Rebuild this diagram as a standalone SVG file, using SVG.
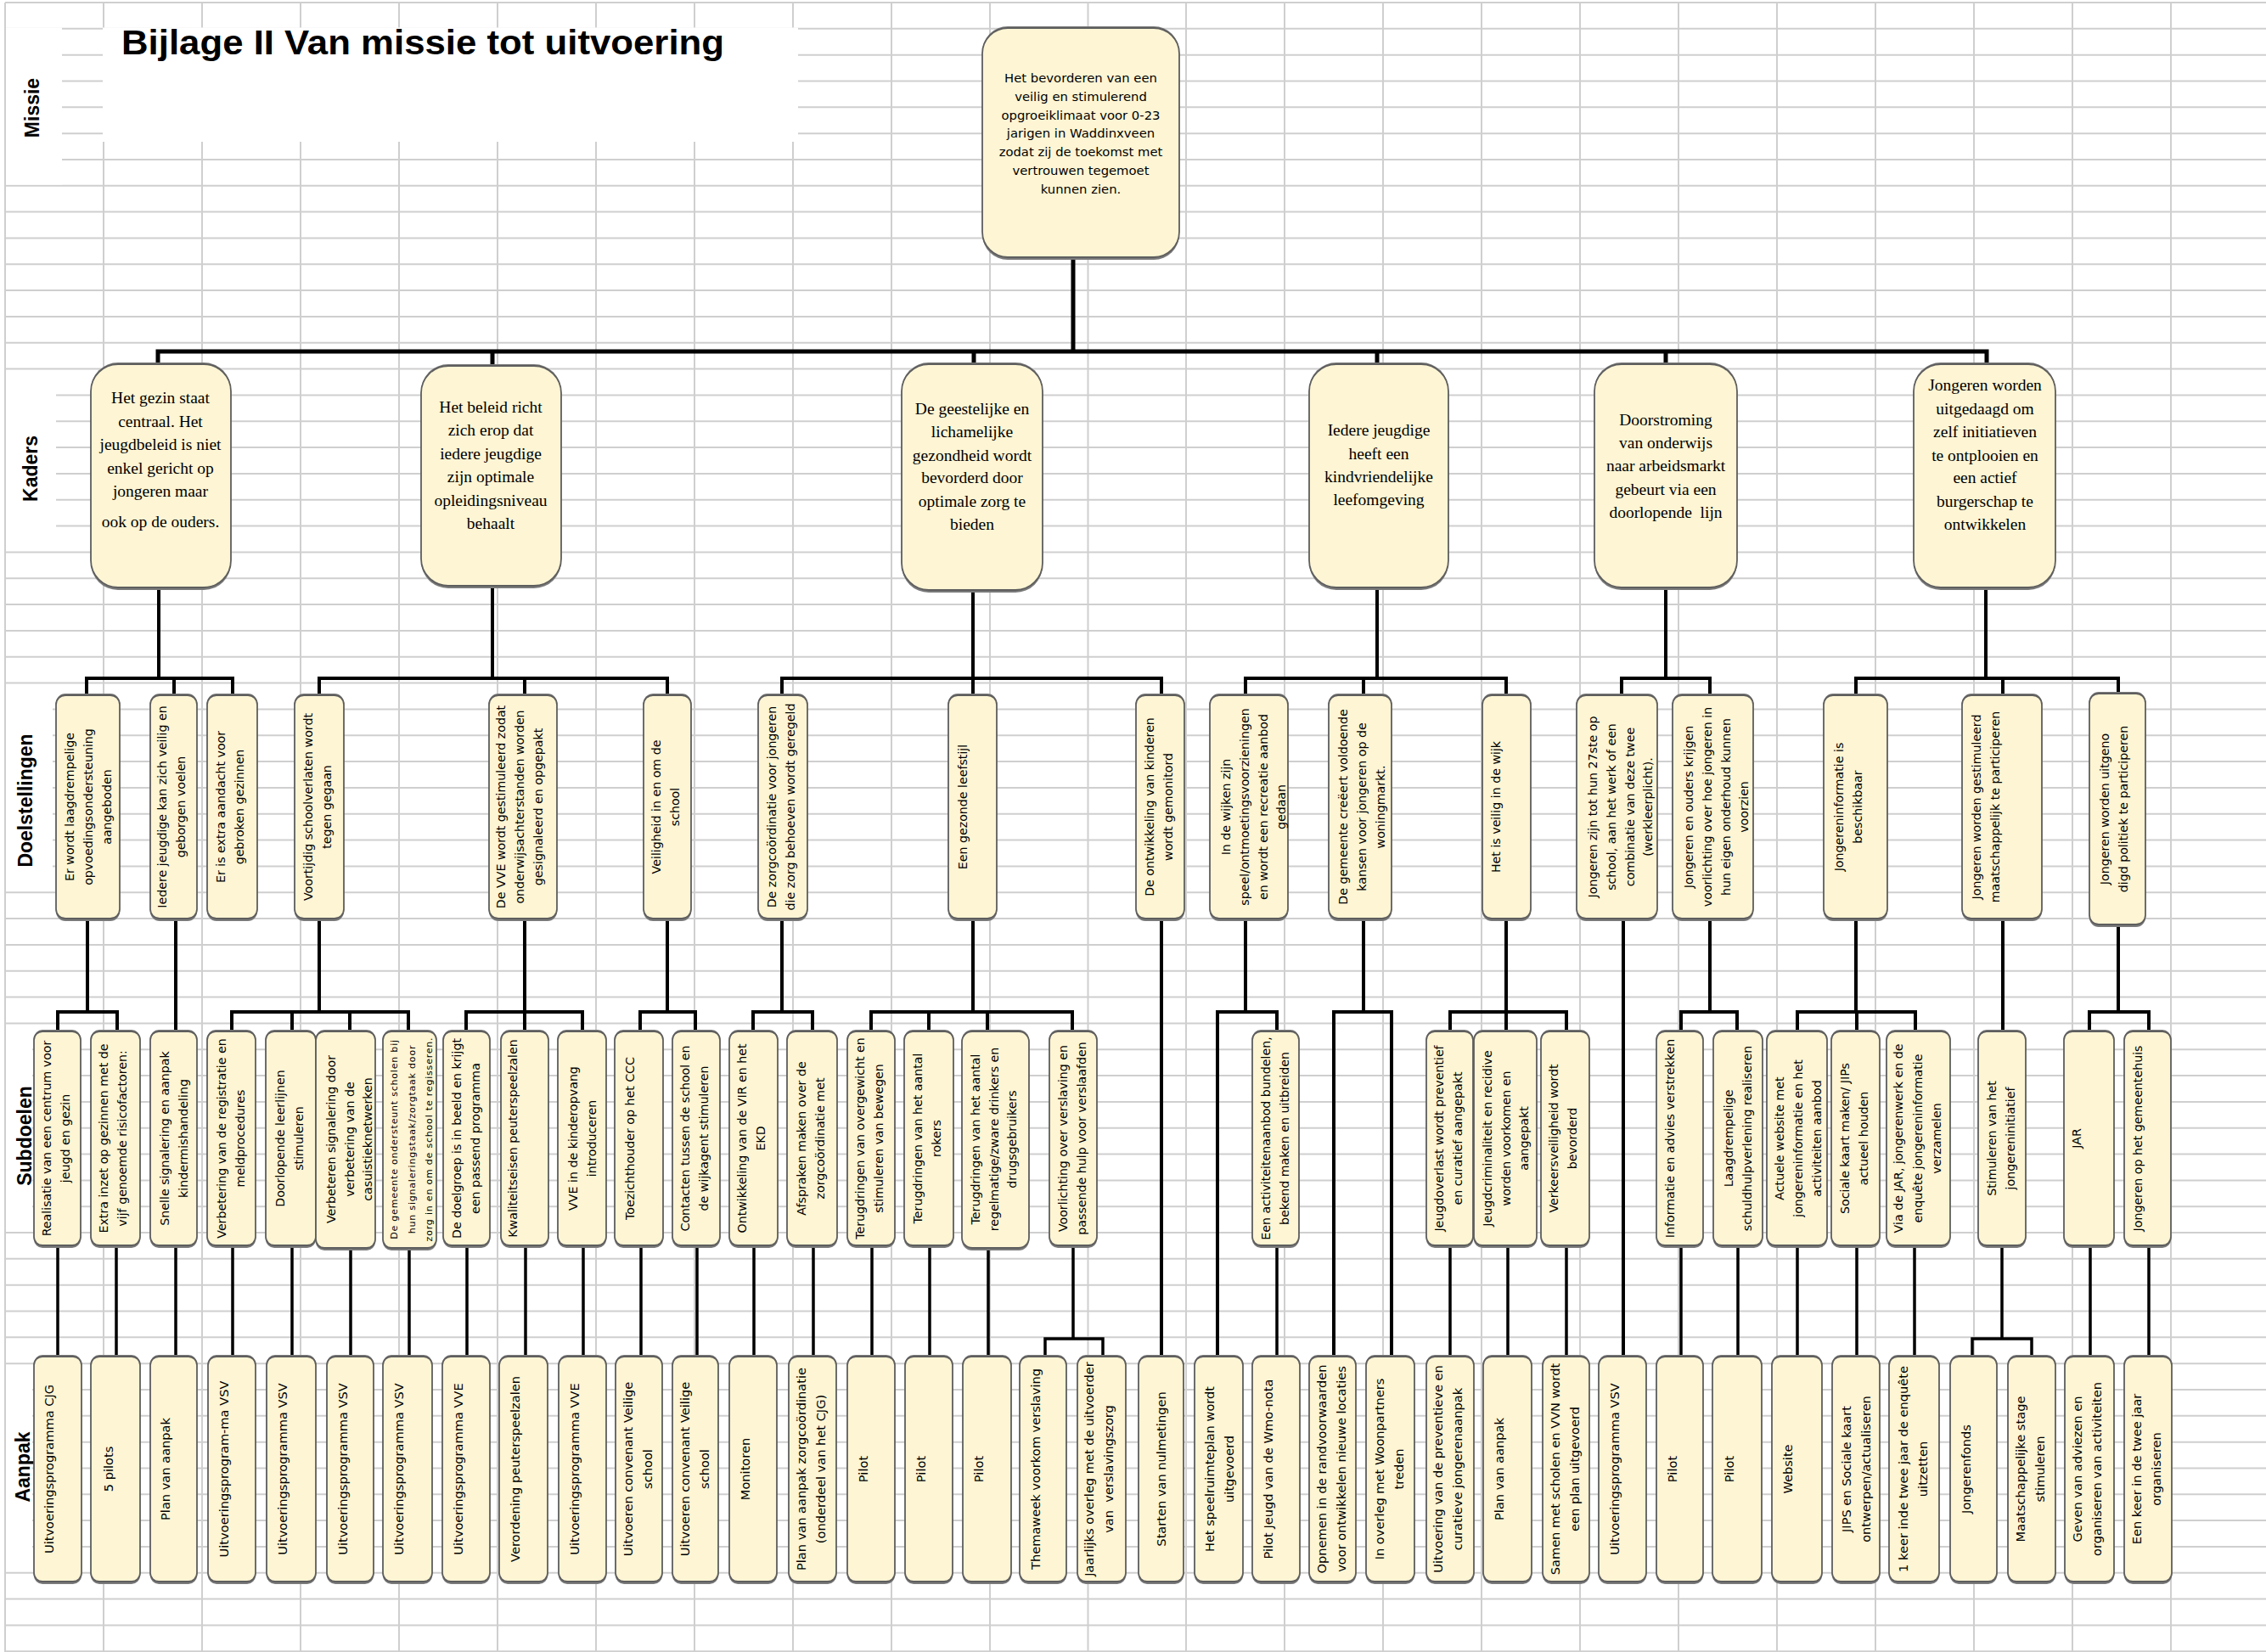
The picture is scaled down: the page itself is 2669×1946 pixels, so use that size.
<svg xmlns="http://www.w3.org/2000/svg" width="2669" height="1946" viewBox="0 0 2669 1946">
<style>
.grid{stroke:#cfcfcf;stroke-width:2;fill:none}
.wh{fill:#ffffff}
.box{fill:#fdf5d4;stroke:#5e5e5e;stroke-width:1.8}
.sh{fill:#7a7a7a}
.c{stroke:#000;stroke-width:4;fill:none;stroke-linecap:square}
.c5{stroke:#000;stroke-width:5;fill:none;stroke-linecap:square}
.c3{stroke:#000;stroke-width:3.5;fill:none;stroke-linecap:square}
.m{font-family:"DejaVu Sans",Verdana,sans-serif;font-size:14.8px;fill:#000;text-anchor:middle}
.t{font-family:"DejaVu Sans",Verdana,sans-serif;font-size:14.2px;fill:#000;text-anchor:middle}
.a{font-family:"DejaVu Sans",Verdana,sans-serif;font-size:14.6px;fill:#000;text-anchor:middle}
.s{font-family:"DejaVu Sans",Verdana,sans-serif;font-size:11px;letter-spacing:0.8px;fill:#000;text-anchor:middle}
.k{font-family:"Liberation Serif","Times New Roman",serif;font-size:19.5px;fill:#000;text-anchor:middle}
.lbl{font-family:"Liberation Sans",Arial,sans-serif;font-weight:bold;font-size:23px;fill:#000;text-anchor:middle}
.title{font-family:"Liberation Sans",Arial,sans-serif;font-weight:bold;font-size:40px;fill:#000}
</style>
<rect x="0" y="0" width="2669" height="1946" fill="#ffffff"/>
<g id="grid">
<path class="grid" d="M6 3V1946M122 3V1946M238 3V1946M354 3V1946M470 3V1946M586 3V1946M702 3V1946M818 3V1946M934 3V1946M1050 3V1946M1166 3V1946M1281.5 3V1946M1397 3V1946M1513 3V1946M1629 3V1946M1745 3V1946M1861 3V1946M1977 3V1946M2093 3V1946M2209 3V1946M2325 3V1946M2441 3V1946M2557 3V1946"/>
<path class="grid" d="M6 3H2669M6 33.8H2669M6 64.7H2669M6 95.5H2669M6 126.3H2669M6 157.2H2669M6 188H2669M6 218.8H2669M6 249.6H2669M6 280.5H2669M6 311.3H2669M6 342.1H2669M6 373H2669M6 403.8H2669M6 434.6H2669M6 465.5H2669M6 496.3H2669M6 527.1H2669M6 557.9H2669M6 588.8H2669M6 619.6H2669M6 650.4H2669M6 681.3H2669M6 712.1H2669M6 742.9H2669M6 773.8H2669M6 804.6H2669M6 835.4H2669M6 866.2H2669M6 897.1H2669M6 927.9H2669M6 958.7H2669M6 989.6H2669M6 1020.4H2669M6 1051.2H2669M6 1082.1H2669M6 1112.9H2669M6 1143.7H2669M6 1174.5H2669M6 1205.4H2669M6 1236.2H2669M6 1267H2669M6 1297.9H2669M6 1328.7H2669M6 1359.5H2669M6 1390.4H2669M6 1421.2H2669M6 1452H2669M6 1482.8H2669M6 1513.7H2669M6 1544.5H2669M6 1575.3H2669M6 1606.2H2669M6 1637H2669M6 1667.8H2669M6 1698.7H2669M6 1729.5H2669M6 1760.3H2669M6 1791.1H2669M6 1822H2669M6 1852.8H2669M6 1883.6H2669M6 1914.5H2669M6 1945.3H2669"/>
<rect class="wh" x="121" y="32.5" width="819" height="134.5"/>
<rect class="wh" x="7" y="32.5" width="66" height="185"/>
<rect class="wh" x="7" y="437" width="59" height="212"/>
<rect class="wh" x="7" y="806" width="55" height="243"/>
<rect class="wh" x="7" y="1207" width="31" height="243"/>
<rect class="wh" x="7" y="1608" width="31" height="243"/>
</g>
<g id="labels">
<text class="title" x="143" y="64" textLength="710" lengthAdjust="spacingAndGlyphs">Bijlage II Van missie tot uitvoering</text>
<text class="lbl" transform="translate(46,127) rotate(-90)">Missie</text>
<text class="lbl" transform="translate(44,552) rotate(-90)">Kaders</text>
<text class="lbl" transform="translate(38,943) rotate(-90)">Doelstellingen</text>
<text class="lbl" transform="translate(37,1338) rotate(-90)">Subdoelen</text>
<text class="lbl" transform="translate(35,1728) rotate(-90)">Aanpak</text>
</g>
<g id="connectors">
<path class="c5" d="M1264 303V414M186 414H2340M186 414V429M580 414V431M1147 414V429M1622 414V429M1962 414V429M2340 414V429"/>
<path class="c" d="M187 692V799M102 799H274M102 799V819M205 799V821M274 799V821M580 690V799M376 799H786M376 799V821M618 799V821M786 799V821M1146 695V799M921 799H1368M921 799V821M1146 799V821M1368 799V821M1622 692V799M1467 799H1774M1467 799V821M1606 799V821M1774 799V821M1962 692V799M1910 799H2014M1910 799V821M2014 799V821M2339 692V799M2186 799H2495M2186 799V821M2359 799V821M2495 799V817"/>
<path class="c" d="M103 1082V1192M68 1192H138M68 1192V1215M138 1192V1215M207 1082V1215M376 1082V1192M273 1192H481M273 1192V1215M344 1192V1215M412 1192V1215M481 1192V1215M618 1082V1192M549 1192H686M549 1192V1215M618 1192V1215M686 1192V1215M786 1082V1192M754 1192H819M754 1192V1215M819 1192V1215M921 1082V1192M887 1192H957M887 1192V1215M957 1192V1215M1146 1082V1192M1026 1192H1263M1026 1192V1215M1094 1192V1215M1163 1192V1215M1263 1192V1215M1368 1082V1598M1467 1082V1192M1434 1192H1504M1434 1192V1598M1504 1192V1215M1606 1082V1192M1571 1192H1639M1571 1192V1598M1639 1192V1598M1774 1082V1192M1708 1192H1845M1708 1192V1215M1774 1192V1215M1845 1192V1215M1912 1082V1598M2014 1082V1192M1980 1192H2046M1980 1192V1215M2046 1192V1215M2186 1082V1192M2117 1192H2256M2117 1192V1215M2187 1192V1215M2256 1192V1215M2359 1082V1215M2495 1089V1192M2461 1192H2531M2461 1192V1215M2531 1192V1215"/>
<path class="c3" d="M68 1467V1598M137 1467V1598M207 1467V1598M274 1467V1598M344 1467V1598M413 1467V1598M482 1467V1598M550 1467V1598M619 1467V1598M687 1467V1598M755 1467V1598M821 1467V1598M888 1467V1598M958 1467V1598M1027 1467V1598M1095 1467V1598M1164 1467V1598M1264 1467V1577M1231 1577H1299M1231 1577V1598M1299 1577V1598M1504 1467V1598M1708 1467V1598M1776 1467V1598M1845 1467V1598M1980 1467V1598M2047 1467V1598M2117 1467V1598M2187 1467V1598M2255 1467V1598M2358 1467V1577M2323 1577H2393M2323 1577V1598M2393 1577V1598M2462 1467V1598M2531 1467V1598"/>
</g>
<g id="missie-node">
<rect class="sh" x="1157" y="31" width="232" height="275" rx="30"/>
<rect class="box" x="1157" y="33" width="232" height="270" rx="30"/>
<text class="m"><tspan x="1273" y="97">Het bevorderen van een</tspan><tspan x="1273" y="119">veilig en stimulerend</tspan><tspan x="1273" y="141">opgroeiklimaat voor 0-23</tspan><tspan x="1273" y="162">jarigen in Waddinxveen</tspan><tspan x="1273" y="184">zodat zij de toekomst met</tspan><tspan x="1273" y="206">vertrouwen tegemoet</tspan><tspan x="1273" y="228">kunnen zien.</tspan></text>
</g>
<g id="kader-1">
<rect class="sh" x="107" y="427" width="165" height="268" rx="32"/>
<rect class="box" x="107" y="429" width="165" height="263" rx="32"/>
<text class="k"><tspan x="189" y="475">Het gezin staat</tspan><tspan x="189" y="503">centraal. Het</tspan><tspan x="189" y="530">jeugdbeleid is niet</tspan><tspan x="189" y="558">enkel gericht op</tspan><tspan x="189" y="585">jongeren maar</tspan><tspan x="189" y="621">ook op de ouders.</tspan></text>
</g>
<g id="kader-2">
<rect class="sh" x="496" y="429" width="165" height="264" rx="32"/>
<rect class="box" x="496" y="431" width="165" height="259" rx="32"/>
<text class="k"><tspan x="578" y="486">Het beleid richt</tspan><tspan x="578" y="513">zich erop dat</tspan><tspan x="578" y="541">iedere jeugdige</tspan><tspan x="578" y="568">zijn optimale</tspan><tspan x="578" y="596">opleidingsniveau</tspan><tspan x="578" y="623">behaalt</tspan></text>
</g>
<g id="kader-3">
<rect class="sh" x="1062" y="427" width="166" height="271" rx="32"/>
<rect class="box" x="1062" y="429" width="166" height="266" rx="32"/>
<text class="k"><tspan x="1145" y="488">De geestelijke en</tspan><tspan x="1145" y="515">lichamelijke</tspan><tspan x="1145" y="543">gezondheid wordt</tspan><tspan x="1145" y="569">bevorderd door</tspan><tspan x="1145" y="597">optimale zorg te</tspan><tspan x="1145" y="624">bieden</tspan></text>
</g>
<g id="kader-4">
<rect class="sh" x="1542" y="427" width="164" height="268" rx="32"/>
<rect class="box" x="1542" y="429" width="164" height="263" rx="32"/>
<text class="k"><tspan x="1624" y="513">Iedere jeugdige</tspan><tspan x="1624" y="541">heeft een</tspan><tspan x="1624" y="568">kindvriendelijke</tspan><tspan x="1624" y="595">leefomgeving</tspan></text>
</g>
<g id="kader-5">
<rect class="sh" x="1878" y="427" width="168" height="268" rx="32"/>
<rect class="box" x="1878" y="429" width="168" height="263" rx="32"/>
<text class="k"><tspan x="1962" y="501">Doorstroming</tspan><tspan x="1962" y="528">van onderwijs</tspan><tspan x="1962" y="555">naar arbeidsmarkt</tspan><tspan x="1962" y="583">gebeurt via een</tspan><tspan x="1962" y="610" xml:space="preserve">doorlopende  lijn</tspan></text>
</g>
<g id="kader-6">
<rect class="sh" x="2254" y="427" width="167" height="268" rx="32"/>
<rect class="box" x="2254" y="429" width="167" height="263" rx="32"/>
<text class="k"><tspan x="2338" y="460">Jongeren worden</tspan><tspan x="2338" y="488">uitgedaagd om</tspan><tspan x="2338" y="515">zelf initiatieven</tspan><tspan x="2338" y="543">te ontplooien en</tspan><tspan x="2338" y="569">een actief</tspan><tspan x="2338" y="597">burgerschap te</tspan><tspan x="2338" y="624">ontwikkelen</tspan></text>
</g>
<g id="doel-1"><rect class="sh" x="66" y="817" width="75" height="268" rx="11"/><rect class="box" x="66" y="819" width="75" height="263" rx="11"/>
<text class="t" transform="translate(82,950.5) rotate(-90)"><tspan x="0" y="5">Er wordt laagdrempelige</tspan><tspan x="0" y="26.8">opvoedingsondersteuning</tspan><tspan x="0" y="48.6">aangeboden</tspan></text></g>
<g id="doel-2"><rect class="sh" x="177" y="817" width="55" height="268" rx="11"/><rect class="box" x="177" y="819" width="55" height="263" rx="11"/>
<text class="t" transform="translate(191,950.5) rotate(-90)"><tspan x="0" y="5">Iedere jeugdige kan zich veilig en</tspan><tspan x="0" y="26.8">geborgen voelen</tspan></text></g>
<g id="doel-3"><rect class="sh" x="244" y="817" width="59" height="268" rx="11"/><rect class="box" x="244" y="819" width="59" height="263" rx="11"/>
<text class="t" transform="translate(260,950.5) rotate(-90)"><tspan x="0" y="5">Er is extra aandacht voor</tspan><tspan x="0" y="26.8">gebroken gezinnen</tspan></text></g>
<g id="doel-4"><rect class="sh" x="347" y="817" width="58" height="268" rx="11"/><rect class="box" x="347" y="819" width="58" height="263" rx="11"/>
<text class="t" transform="translate(363,950.5) rotate(-90)"><tspan x="0" y="5">Voortijdig schoolverlaten wordt</tspan><tspan x="0" y="26.8">tegen gegaan</tspan></text></g>
<g id="doel-5"><rect class="sh" x="576" y="817" width="80" height="268" rx="11"/><rect class="box" x="576" y="819" width="80" height="263" rx="11"/>
<text class="t" transform="translate(590,950.5) rotate(-90)"><tspan x="0" y="5">De VVE wordt gestimuleerd zodat</tspan><tspan x="0" y="26.8">onderwijsachterstanden worden</tspan><tspan x="0" y="48.6">gesignaleerd en opgepakt</tspan></text></g>
<g id="doel-6"><rect class="sh" x="758" y="817" width="56" height="268" rx="11"/><rect class="box" x="758" y="819" width="56" height="263" rx="11"/>
<text class="t" transform="translate(773,950.5) rotate(-90)"><tspan x="0" y="5">Veiligheid in en om de</tspan><tspan x="0" y="26.8">school</tspan></text></g>
<g id="doel-7"><rect class="sh" x="893" y="817" width="58" height="268" rx="11"/><rect class="box" x="893" y="819" width="58" height="263" rx="11"/>
<text class="t" transform="translate(909,950.5) rotate(-90)"><tspan x="0" y="5">De zorgcoördinatie voor jongeren</tspan><tspan x="0" y="26.8">die zorg behoeven wordt geregeld</tspan></text></g>
<g id="doel-8"><rect class="sh" x="1117" y="817" width="57" height="268" rx="11"/><rect class="box" x="1117" y="819" width="57" height="263" rx="11"/>
<text class="t" transform="translate(1134,950.5) rotate(-90)"><tspan x="0" y="5">Een gezonde leefstijl</tspan></text></g>
<g id="doel-9"><rect class="sh" x="1338" y="817" width="57" height="268" rx="11"/><rect class="box" x="1338" y="819" width="57" height="263" rx="11"/>
<text class="t" transform="translate(1354,950.5) rotate(-90)"><tspan x="0" y="5">De ontwikkeling van kinderen</tspan><tspan x="0" y="26.8">wordt gemonitord</tspan></text></g>
<g id="doel-10"><rect class="sh" x="1425" y="817" width="92" height="268" rx="11"/><rect class="box" x="1425" y="819" width="92" height="263" rx="11"/>
<text class="t" transform="translate(1444,950.5) rotate(-90)"><tspan x="0" y="5">In de wijken zijn</tspan><tspan x="0" y="26.8">speel/ontmoetingsvoorzieningen</tspan><tspan x="0" y="48.6">en wordt een recreatie aanbod</tspan><tspan x="0" y="70.4">gedaan</tspan></text></g>
<g id="doel-11"><rect class="sh" x="1565" y="817" width="74" height="268" rx="11"/><rect class="box" x="1565" y="819" width="74" height="263" rx="11"/>
<text class="t" transform="translate(1582,950.5) rotate(-90)"><tspan x="0" y="5">De gemeente creëert voldoende</tspan><tspan x="0" y="26.8">kansen voor jongeren op de</tspan><tspan x="0" y="48.6">woningmarkt.</tspan></text></g>
<g id="doel-12"><rect class="sh" x="1746" y="817" width="57" height="268" rx="11"/><rect class="box" x="1746" y="819" width="57" height="263" rx="11"/>
<text class="t" transform="translate(1762,950.5) rotate(-90)"><tspan x="0" y="5">Het is veilig in de wijk</tspan></text></g>
<g id="doel-13"><rect class="sh" x="1857" y="817" width="95" height="268" rx="11"/><rect class="box" x="1857" y="819" width="95" height="263" rx="11"/>
<text class="t" transform="translate(1876,950.5) rotate(-90)"><tspan x="0" y="5">Jongeren zijn tot hun 27ste op</tspan><tspan x="0" y="26.8">school, aan het werk of een</tspan><tspan x="0" y="48.6">combinatie van deze twee</tspan><tspan x="0" y="70.4">(werkleerplicht).</tspan></text></g>
<g id="doel-14"><rect class="sh" x="1970" y="817" width="95" height="268" rx="11"/><rect class="box" x="1970" y="819" width="95" height="263" rx="11"/>
<text class="t" transform="translate(1989,950.5) rotate(-90)"><tspan x="0" y="5">Jongeren en ouders krijgen</tspan><tspan x="0" y="26.8">voorlichting over hoe jongeren in</tspan><tspan x="0" y="48.6">hun eigen onderhoud kunnen</tspan><tspan x="0" y="70.4">voorzien</tspan></text></g>
<g id="doel-15"><rect class="sh" x="2148" y="817" width="75" height="268" rx="11"/><rect class="box" x="2148" y="819" width="75" height="263" rx="11"/>
<text class="t" transform="translate(2166,950.5) rotate(-90)"><tspan x="0" y="5">Jongereninformatie is</tspan><tspan x="0" y="26.8">beschikbaar</tspan></text></g>
<g id="doel-16"><rect class="sh" x="2311" y="817" width="94" height="268" rx="11"/><rect class="box" x="2311" y="819" width="94" height="263" rx="11"/>
<text class="t" transform="translate(2328,950.5) rotate(-90)"><tspan x="0" y="5">Jongeren worden gestimuleerd</tspan><tspan x="0" y="26.8">maatschappelijk te participeren</tspan></text></g>
<g id="doel-17"><rect class="sh" x="2461" y="815" width="66" height="277" rx="11"/><rect class="box" x="2461" y="817" width="66" height="272" rx="11"/>
<text class="t" transform="translate(2479,953) rotate(-90)"><tspan x="0" y="5">Jongeren worden uitgeno</tspan><tspan x="0" y="26.8">digd politiek te participeren</tspan></text></g>
<g id="sub-1"><rect class="sh" x="40" y="1213" width="55" height="257" rx="10"/><rect class="box" x="40" y="1215" width="55" height="252" rx="10"/>
<text class="t" transform="translate(55,1341) rotate(-90)"><tspan x="0" y="5">Realisatie van een centrum voor</tspan><tspan x="0" y="27">jeugd en gezin</tspan></text></g>
<g id="sub-2"><rect class="sh" x="107" y="1213" width="58" height="257" rx="10"/><rect class="box" x="107" y="1215" width="58" height="252" rx="10"/>
<text class="t" transform="translate(122,1341) rotate(-90)"><tspan x="0" y="5">Extra inzet op gezinnen met de</tspan><tspan x="0" y="27">vijf genoemde risicofactoren:</tspan></text></g>
<g id="sub-3"><rect class="sh" x="177" y="1213" width="55" height="257" rx="10"/><rect class="box" x="177" y="1215" width="55" height="252" rx="10"/>
<text class="t" transform="translate(194,1341) rotate(-90)"><tspan x="0" y="5">Snelle signalering en aanpak</tspan><tspan x="0" y="27">kindermishandeling</tspan></text></g>
<g id="sub-4"><rect class="sh" x="244" y="1213" width="57" height="257" rx="10"/><rect class="box" x="244" y="1215" width="57" height="252" rx="10"/>
<text class="t" transform="translate(261,1341) rotate(-90)"><tspan x="0" y="5">Verbetering van de registratie en</tspan><tspan x="0" y="27">meldprocedures</tspan></text></g>
<g id="sub-5"><rect class="sh" x="313" y="1213" width="59" height="257" rx="10"/><rect class="box" x="313" y="1215" width="59" height="252" rx="10"/>
<text class="t" transform="translate(330,1341) rotate(-90)"><tspan x="0" y="5">Doorlopende leerlijnen</tspan><tspan x="0" y="27">stimuleren</tspan></text></g>
<g id="sub-6"><rect class="sh" x="372" y="1213" width="70" height="260" rx="10"/><rect class="box" x="372" y="1215" width="70" height="255" rx="10"/>
<text class="t" transform="translate(390,1342) rotate(-90)"><tspan x="0" y="5">Verbeteren signalering door</tspan><tspan x="0" y="26.5">verbetering van de</tspan><tspan x="0" y="48">casuistieknetwerken</tspan></text></g>
<g id="sub-7"><rect class="sh" x="451" y="1213" width="63" height="260" rx="10"/><rect class="box" x="451" y="1215" width="63" height="255" rx="10"/>
<text class="s" transform="translate(464,1342) rotate(-90)"><tspan x="0" y="4">De gemeente ondersteunt scholen bij</tspan><tspan x="0" y="24.5">hun signaleringstaak/zorgtaak door</tspan><tspan x="0" y="45">zorg in en om de school te regisseren.</tspan></text></g>
<g id="sub-8"><rect class="sh" x="522" y="1213" width="55" height="257" rx="10"/><rect class="box" x="522" y="1215" width="55" height="252" rx="10"/>
<text class="t" transform="translate(538,1341) rotate(-90)"><tspan x="0" y="5">De doelgroep is in beeld en krijgt</tspan><tspan x="0" y="27">een passend programma</tspan></text></g>
<g id="sub-9"><rect class="sh" x="590" y="1213" width="56" height="257" rx="10"/><rect class="box" x="590" y="1215" width="56" height="252" rx="10"/>
<text class="t" transform="translate(604,1341) rotate(-90)"><tspan x="0" y="5">Kwaliteitseisen peuterspeelzalen</tspan></text></g>
<g id="sub-10"><rect class="sh" x="657" y="1213" width="57" height="257" rx="10"/><rect class="box" x="657" y="1215" width="57" height="252" rx="10"/>
<text class="t" transform="translate(675,1341) rotate(-90)"><tspan x="0" y="5">VVE in de kinderopvang</tspan><tspan x="0" y="27">introduceren</tspan></text></g>
<g id="sub-11"><rect class="sh" x="724" y="1213" width="57" height="257" rx="10"/><rect class="box" x="724" y="1215" width="57" height="252" rx="10"/>
<text class="t" transform="translate(742,1341) rotate(-90)"><tspan x="0" y="5">Toezichthouder op het CCC</tspan></text></g>
<g id="sub-12"><rect class="sh" x="792" y="1213" width="56" height="257" rx="10"/><rect class="box" x="792" y="1215" width="56" height="252" rx="10"/>
<text class="t" transform="translate(807,1341) rotate(-90)"><tspan x="0" y="5">Contacten tussen de school en</tspan><tspan x="0" y="27">de wijkagent stimuleren</tspan></text></g>
<g id="sub-13"><rect class="sh" x="859" y="1213" width="57" height="257" rx="10"/><rect class="box" x="859" y="1215" width="57" height="252" rx="10"/>
<text class="t" transform="translate(874,1341) rotate(-90)"><tspan x="0" y="5">Ontwikkeling van de VIR en het</tspan><tspan x="0" y="27">EKD</tspan></text></g>
<g id="sub-14"><rect class="sh" x="927" y="1213" width="59" height="257" rx="10"/><rect class="box" x="927" y="1215" width="59" height="252" rx="10"/>
<text class="t" transform="translate(944,1341) rotate(-90)"><tspan x="0" y="5">Afspraken maken over de</tspan><tspan x="0" y="27">zorgcoördinatie met</tspan></text></g>
<g id="sub-15"><rect class="sh" x="998" y="1213" width="56" height="257" rx="10"/><rect class="box" x="998" y="1215" width="56" height="252" rx="10"/>
<text class="t" transform="translate(1013,1341) rotate(-90)"><tspan x="0" y="5">Terugdringen van overgewicht en</tspan><tspan x="0" y="27">stimuleren van bewegen</tspan></text></g>
<g id="sub-16"><rect class="sh" x="1065" y="1213" width="58" height="257" rx="10"/><rect class="box" x="1065" y="1215" width="58" height="252" rx="10"/>
<text class="t" transform="translate(1081,1341) rotate(-90)"><tspan x="0" y="5">Terugdringen van het aantal</tspan><tspan x="0" y="27">rokers</tspan></text></g>
<g id="sub-17"><rect class="sh" x="1133" y="1213" width="79" height="260" rx="12"/><rect class="box" x="1133" y="1215" width="79" height="255" rx="12"/>
<text class="t" transform="translate(1149,1342) rotate(-90)"><tspan x="0" y="5">Terugdringen van het aantal</tspan><tspan x="0" y="26.5">regelmatige/zware drinkers en</tspan><tspan x="0" y="48">drugsgebruikers</tspan></text></g>
<g id="sub-18"><rect class="sh" x="1236" y="1213" width="56" height="257" rx="10"/><rect class="box" x="1236" y="1215" width="56" height="252" rx="10"/>
<text class="t" transform="translate(1252,1341) rotate(-90)"><tspan x="0" y="5">Voorlichting over verslaving en</tspan><tspan x="0" y="27">passende hulp voor verslaafden</tspan></text></g>
<g id="sub-19"><rect class="sh" x="1475" y="1213" width="55" height="257" rx="10"/><rect class="box" x="1475" y="1215" width="55" height="252" rx="10"/>
<text class="t" transform="translate(1491,1341) rotate(-90)"><tspan x="0" y="5">Een activiteitenaanbod bundelen,</tspan><tspan x="0" y="27">bekend maken en uitbreiden</tspan></text></g>
<g id="sub-20"><rect class="sh" x="1680" y="1213" width="55" height="257" rx="10"/><rect class="box" x="1680" y="1215" width="55" height="252" rx="10"/>
<text class="t" transform="translate(1695,1341) rotate(-90)"><tspan x="0" y="5">Jeugdoverlast wordt preventief</tspan><tspan x="0" y="27">en curatief aangepakt</tspan></text></g>
<g id="sub-21"><rect class="sh" x="1736" y="1213" width="74" height="257" rx="10"/><rect class="box" x="1736" y="1215" width="74" height="252" rx="10"/>
<text class="t" transform="translate(1752,1341) rotate(-90)"><tspan x="0" y="5">Jeugdcriminaliteit en recidive</tspan><tspan x="0" y="26.5">worden voorkomen en</tspan><tspan x="0" y="48">aangepakt</tspan></text></g>
<g id="sub-22"><rect class="sh" x="1815" y="1213" width="57" height="257" rx="10"/><rect class="box" x="1815" y="1215" width="57" height="252" rx="10"/>
<text class="t" transform="translate(1830,1341) rotate(-90)"><tspan x="0" y="5">Verkeersveiligheid wordt</tspan><tspan x="0" y="27">bevorderd</tspan></text></g>
<g id="sub-23"><rect class="sh" x="1951" y="1213" width="55" height="257" rx="10"/><rect class="box" x="1951" y="1215" width="55" height="252" rx="10"/>
<text class="t" transform="translate(1967,1341) rotate(-90)"><tspan x="0" y="5">Informatie en advies verstrekken</tspan></text></g>
<g id="sub-24"><rect class="sh" x="2018" y="1213" width="58" height="257" rx="10"/><rect class="box" x="2018" y="1215" width="58" height="252" rx="10"/>
<text class="t" transform="translate(2036,1341) rotate(-90)"><tspan x="0" y="5">Laagdrempelige</tspan><tspan x="0" y="27">schuldhulpverlening realiseren</tspan></text></g>
<g id="sub-25"><rect class="sh" x="2081" y="1213" width="71" height="257" rx="10"/><rect class="box" x="2081" y="1215" width="71" height="252" rx="10"/>
<text class="t" transform="translate(2096,1341) rotate(-90)"><tspan x="0" y="5">Actuele website met</tspan><tspan x="0" y="27">jongereninformatie en het</tspan><tspan x="0" y="49">activiteiten aanbod</tspan></text></g>
<g id="sub-26"><rect class="sh" x="2157" y="1213" width="57" height="257" rx="10"/><rect class="box" x="2157" y="1215" width="57" height="252" rx="10"/>
<text class="t" transform="translate(2173,1341) rotate(-90)"><tspan x="0" y="5">Sociale kaart maken/ JIPs</tspan><tspan x="0" y="27">actueel houden</tspan></text></g>
<g id="sub-27"><rect class="sh" x="2222" y="1213" width="75" height="257" rx="10"/><rect class="box" x="2222" y="1215" width="75" height="252" rx="10"/>
<text class="t" transform="translate(2236,1341) rotate(-90)"><tspan x="0" y="5">Via de JAR, jongerenwerk en de</tspan><tspan x="0" y="27.5">enquête jongereninformatie</tspan><tspan x="0" y="50">verzamelen</tspan></text></g>
<g id="sub-28"><rect class="sh" x="2330" y="1213" width="56" height="257" rx="10"/><rect class="box" x="2330" y="1215" width="56" height="252" rx="10"/>
<text class="t" transform="translate(2346,1341) rotate(-90)"><tspan x="0" y="5">Stimuleren van het</tspan><tspan x="0" y="27">jongereninitiatief</tspan></text></g>
<g id="sub-29"><rect class="sh" x="2431" y="1213" width="59" height="257" rx="10"/><rect class="box" x="2431" y="1215" width="59" height="252" rx="10"/>
<text class="t" transform="translate(2446,1341) rotate(-90)"><tspan x="0" y="5">JAR</tspan></text></g>
<g id="sub-30"><rect class="sh" x="2502" y="1213" width="55" height="257" rx="10"/><rect class="box" x="2502" y="1215" width="55" height="252" rx="10"/>
<text class="t" transform="translate(2518,1341) rotate(-90)"><tspan x="0" y="5">Jongeren op het gemeentehuis</tspan></text></g>
<g id="aanpak-1"><rect class="sh" x="40" y="1596" width="56" height="270" rx="10"/><rect class="box" x="40" y="1598" width="56" height="265" rx="10"/>
<text class="a" transform="translate(58,1730.5) rotate(-90)"><tspan x="0" y="5">Uitvoeringsprogramma CJG</tspan></text></g>
<g id="aanpak-2"><rect class="sh" x="107" y="1596" width="58" height="270" rx="10"/><rect class="box" x="107" y="1598" width="58" height="265" rx="10"/>
<text class="a" transform="translate(128,1730.5) rotate(-90)"><tspan x="0" y="5">5 pilots</tspan></text></g>
<g id="aanpak-3"><rect class="sh" x="177" y="1596" width="55" height="270" rx="10"/><rect class="box" x="177" y="1598" width="55" height="265" rx="10"/>
<text class="a" transform="translate(195,1730.5) rotate(-90)"><tspan x="0" y="5">Plan van aanpak</tspan></text></g>
<g id="aanpak-4"><rect class="sh" x="245" y="1596" width="56" height="270" rx="10"/><rect class="box" x="245" y="1598" width="56" height="265" rx="10"/>
<text class="a" transform="translate(264,1730.5) rotate(-90)"><tspan x="0" y="5">Uitvoeringsprogram-ma VSV</tspan></text></g>
<g id="aanpak-5"><rect class="sh" x="314" y="1596" width="58" height="270" rx="10"/><rect class="box" x="314" y="1598" width="58" height="265" rx="10"/>
<text class="a" transform="translate(333,1730.5) rotate(-90)"><tspan x="0" y="5">Uitvoeringsprogramma VSV</tspan></text></g>
<g id="aanpak-6"><rect class="sh" x="385" y="1596" width="55" height="270" rx="10"/><rect class="box" x="385" y="1598" width="55" height="265" rx="10"/>
<text class="a" transform="translate(404,1730.5) rotate(-90)"><tspan x="0" y="5">Uitvoeringsprogramma VSV</tspan></text></g>
<g id="aanpak-7"><rect class="sh" x="451" y="1596" width="58" height="270" rx="10"/><rect class="box" x="451" y="1598" width="58" height="265" rx="10"/>
<text class="a" transform="translate(470,1730.5) rotate(-90)"><tspan x="0" y="5">Uitvoeringsprogramma VSV</tspan></text></g>
<g id="aanpak-8"><rect class="sh" x="521" y="1596" width="56" height="270" rx="10"/><rect class="box" x="521" y="1598" width="56" height="265" rx="10"/>
<text class="a" transform="translate(540,1730.5) rotate(-90)"><tspan x="0" y="5">Uitvoeringsprogramma VVE</tspan></text></g>
<g id="aanpak-9"><rect class="sh" x="588" y="1596" width="57" height="270" rx="10"/><rect class="box" x="588" y="1598" width="57" height="265" rx="10"/>
<text class="a" transform="translate(607,1730.5) rotate(-90)"><tspan x="0" y="5">Verordening peuterspeelzalen</tspan></text></g>
<g id="aanpak-10"><rect class="sh" x="658" y="1596" width="56" height="270" rx="10"/><rect class="box" x="658" y="1598" width="56" height="265" rx="10"/>
<text class="a" transform="translate(677,1730.5) rotate(-90)"><tspan x="0" y="5">Uitvoeringsprogramma VVE</tspan></text></g>
<g id="aanpak-11"><rect class="sh" x="725" y="1596" width="55" height="270" rx="10"/><rect class="box" x="725" y="1598" width="55" height="265" rx="10"/>
<text class="a" transform="translate(740,1730.5) rotate(-90)"><tspan x="0" y="5">Uitvoeren convenant Veilige</tspan><tspan x="0" y="28">school</tspan></text></g>
<g id="aanpak-12"><rect class="sh" x="792" y="1596" width="54" height="270" rx="10"/><rect class="box" x="792" y="1598" width="54" height="265" rx="10"/>
<text class="a" transform="translate(807,1730.5) rotate(-90)"><tspan x="0" y="5">Uitvoeren convenant Veilige</tspan><tspan x="0" y="28">school</tspan></text></g>
<g id="aanpak-13"><rect class="sh" x="859" y="1596" width="56" height="270" rx="10"/><rect class="box" x="859" y="1598" width="56" height="265" rx="10"/>
<text class="a" transform="translate(878,1730.5) rotate(-90)"><tspan x="0" y="5">Monitoren</tspan></text></g>
<g id="aanpak-14"><rect class="sh" x="929" y="1596" width="56" height="270" rx="10"/><rect class="box" x="929" y="1598" width="56" height="265" rx="10"/>
<text class="a" transform="translate(944,1730.5) rotate(-90)"><tspan x="0" y="5">Plan van aanpak zorgcoördinatie</tspan><tspan x="0" y="28">(onderdeel van het CJG)</tspan></text></g>
<g id="aanpak-15"><rect class="sh" x="998" y="1596" width="56" height="270" rx="10"/><rect class="box" x="998" y="1598" width="56" height="265" rx="10"/>
<text class="a" transform="translate(1017,1730.5) rotate(-90)"><tspan x="0" y="5">Pilot</tspan></text></g>
<g id="aanpak-16"><rect class="sh" x="1066" y="1596" width="56" height="270" rx="10"/><rect class="box" x="1066" y="1598" width="56" height="265" rx="10"/>
<text class="a" transform="translate(1085,1730.5) rotate(-90)"><tspan x="0" y="5">Pilot</tspan></text></g>
<g id="aanpak-17"><rect class="sh" x="1134" y="1596" width="57" height="270" rx="10"/><rect class="box" x="1134" y="1598" width="57" height="265" rx="10"/>
<text class="a" transform="translate(1153,1730.5) rotate(-90)"><tspan x="0" y="5">Pilot</tspan></text></g>
<g id="aanpak-18"><rect class="sh" x="1201" y="1596" width="55" height="270" rx="10"/><rect class="box" x="1201" y="1598" width="55" height="265" rx="10"/>
<text class="a" transform="translate(1220,1730.5) rotate(-90)"><tspan x="0" y="5">Themaweek voorkom verslaving</tspan></text></g>
<g id="aanpak-19"><rect class="sh" x="1269" y="1596" width="57" height="270" rx="10"/><rect class="box" x="1269" y="1598" width="57" height="265" rx="10"/>
<text class="a" transform="translate(1283,1730.5) rotate(-90)"><tspan x="0" y="5">Jaarlijks overleg met de uitvoerder</tspan><tspan x="0" y="28" xml:space="preserve">van  verslavingszorg</tspan></text></g>
<g id="aanpak-20"><rect class="sh" x="1341" y="1596" width="53" height="270" rx="10"/><rect class="box" x="1341" y="1598" width="53" height="265" rx="10"/>
<text class="a" transform="translate(1368,1730.5) rotate(-90)"><tspan x="0" y="5">Starten van nulmetingen</tspan></text></g>
<g id="aanpak-21"><rect class="sh" x="1407" y="1596" width="57" height="270" rx="10"/><rect class="box" x="1407" y="1598" width="57" height="265" rx="10"/>
<text class="a" transform="translate(1425,1730.5) rotate(-90)"><tspan x="0" y="5">Het speelruimteplan wordt</tspan><tspan x="0" y="28">uitgevoerd</tspan></text></g>
<g id="aanpak-22"><rect class="sh" x="1475" y="1596" width="56" height="270" rx="10"/><rect class="box" x="1475" y="1598" width="56" height="265" rx="10"/>
<text class="a" transform="translate(1494,1730.5) rotate(-90)"><tspan x="0" y="5">Pilot Jeugd van de Wmo-nota</tspan></text></g>
<g id="aanpak-23"><rect class="sh" x="1542" y="1596" width="55" height="270" rx="10"/><rect class="box" x="1542" y="1598" width="55" height="265" rx="10"/>
<text class="a" transform="translate(1557,1730.5) rotate(-90)"><tspan x="0" y="5">Opnemen in de randvoorwaarden</tspan><tspan x="0" y="28">voor ontwikkelen nieuwe locaties</tspan></text></g>
<g id="aanpak-24"><rect class="sh" x="1609" y="1596" width="57" height="270" rx="10"/><rect class="box" x="1609" y="1598" width="57" height="265" rx="10"/>
<text class="a" transform="translate(1625,1730.5) rotate(-90)"><tspan x="0" y="5">In overleg met Woonpartners</tspan><tspan x="0" y="28">treden</tspan></text></g>
<g id="aanpak-25"><rect class="sh" x="1680" y="1596" width="56" height="270" rx="10"/><rect class="box" x="1680" y="1598" width="56" height="265" rx="10"/>
<text class="a" transform="translate(1694,1730.5) rotate(-90)"><tspan x="0" y="5">Uitvoering van de preventieve en</tspan><tspan x="0" y="28">curatieve jongerenaanpak</tspan></text></g>
<g id="aanpak-26"><rect class="sh" x="1747" y="1596" width="57" height="270" rx="10"/><rect class="box" x="1747" y="1598" width="57" height="265" rx="10"/>
<text class="a" transform="translate(1766,1730.5) rotate(-90)"><tspan x="0" y="5">Plan van aanpak</tspan></text></g>
<g id="aanpak-27"><rect class="sh" x="1817" y="1596" width="55" height="270" rx="10"/><rect class="box" x="1817" y="1598" width="55" height="265" rx="10"/>
<text class="a" transform="translate(1832,1730.5) rotate(-90)"><tspan x="0" y="5">Samen met scholen en VVN wordt</tspan><tspan x="0" y="28">een plan uitgevoerd</tspan></text></g>
<g id="aanpak-28"><rect class="sh" x="1883" y="1596" width="56" height="270" rx="10"/><rect class="box" x="1883" y="1598" width="56" height="265" rx="10"/>
<text class="a" transform="translate(1902,1730.5) rotate(-90)"><tspan x="0" y="5">Uitvoeringsprogramma VSV</tspan></text></g>
<g id="aanpak-29"><rect class="sh" x="1951" y="1596" width="55" height="270" rx="10"/><rect class="box" x="1951" y="1598" width="55" height="265" rx="10"/>
<text class="a" transform="translate(1970,1730.5) rotate(-90)"><tspan x="0" y="5">Pilot</tspan></text></g>
<g id="aanpak-30"><rect class="sh" x="2017" y="1596" width="58" height="270" rx="10"/><rect class="box" x="2017" y="1598" width="58" height="265" rx="10"/>
<text class="a" transform="translate(2037,1730.5) rotate(-90)"><tspan x="0" y="5">Pilot</tspan></text></g>
<g id="aanpak-31"><rect class="sh" x="2087" y="1596" width="59" height="270" rx="10"/><rect class="box" x="2087" y="1598" width="59" height="265" rx="10"/>
<text class="a" transform="translate(2106,1730.5) rotate(-90)"><tspan x="0" y="5">Website</tspan></text></g>
<g id="aanpak-32"><rect class="sh" x="2158" y="1596" width="56" height="270" rx="10"/><rect class="box" x="2158" y="1598" width="56" height="265" rx="10"/>
<text class="a" transform="translate(2175,1730.5) rotate(-90)"><tspan x="0" y="5">JIPS en Sociale kaart</tspan><tspan x="0" y="28">ontwerpen/actualiseren</tspan></text></g>
<g id="aanpak-33"><rect class="sh" x="2225" y="1596" width="59" height="270" rx="10"/><rect class="box" x="2225" y="1598" width="59" height="265" rx="10"/>
<text class="a" transform="translate(2242,1730.5) rotate(-90)"><tspan x="0" y="5">1 keer inde twee jaar de enquête</tspan><tspan x="0" y="28">uitzetten</tspan></text></g>
<g id="aanpak-34"><rect class="sh" x="2297" y="1596" width="55" height="270" rx="10"/><rect class="box" x="2297" y="1598" width="55" height="265" rx="10"/>
<text class="a" transform="translate(2316,1730.5) rotate(-90)"><tspan x="0" y="5">Jongerenfonds</tspan></text></g>
<g id="aanpak-35"><rect class="sh" x="2365" y="1596" width="56" height="270" rx="10"/><rect class="box" x="2365" y="1598" width="56" height="265" rx="10"/>
<text class="a" transform="translate(2380,1730.5) rotate(-90)"><tspan x="0" y="5">Maatschappelijke stage</tspan><tspan x="0" y="28">stimuleren</tspan></text></g>
<g id="aanpak-36"><rect class="sh" x="2432" y="1596" width="58" height="270" rx="10"/><rect class="box" x="2432" y="1598" width="58" height="265" rx="10"/>
<text class="a" transform="translate(2447,1730.5) rotate(-90)"><tspan x="0" y="5">Geven van adviezen en</tspan><tspan x="0" y="28">organiseren van activiteiten</tspan></text></g>
<g id="aanpak-37"><rect class="sh" x="2502" y="1596" width="56" height="270" rx="10"/><rect class="box" x="2502" y="1598" width="56" height="265" rx="10"/>
<text class="a" transform="translate(2517,1730.5) rotate(-90)"><tspan x="0" y="5">Een keer in de twee jaar</tspan><tspan x="0" y="28">organiseren</tspan></text></g>
</svg>
